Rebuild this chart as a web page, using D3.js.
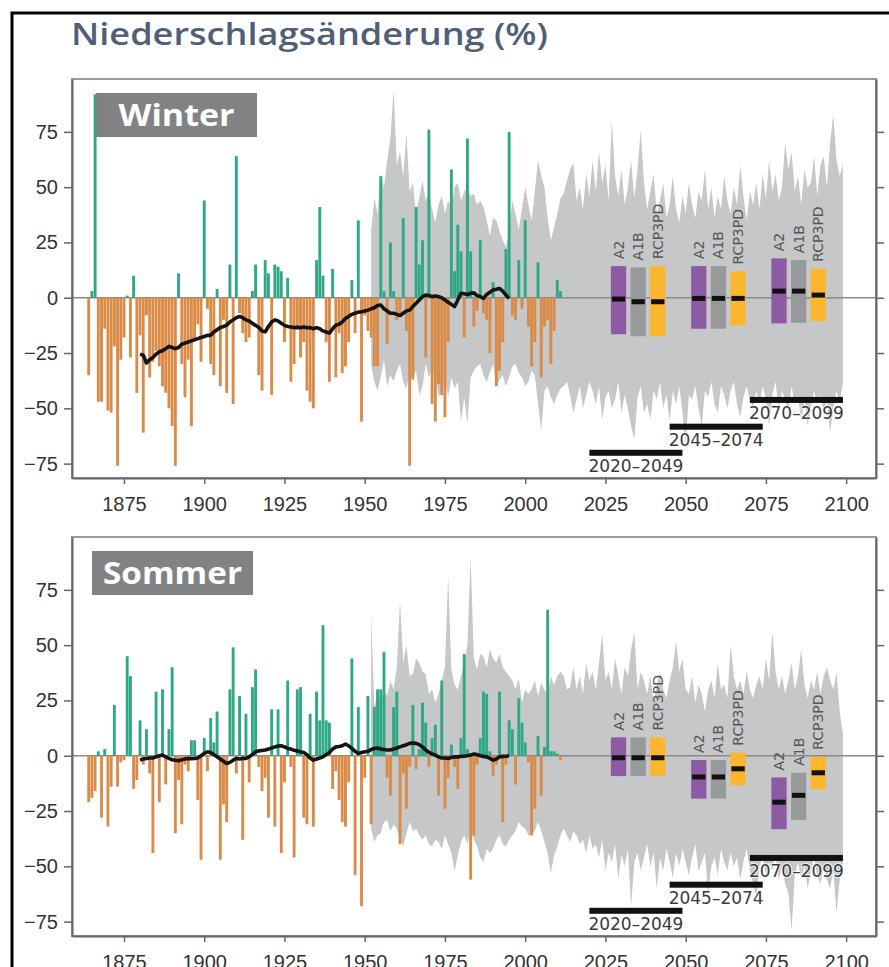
<!DOCTYPE html>
<html>
<head>
<meta charset="utf-8">
<script src="https://cdn.jsdelivr.net/npm/d3@7"></script>
<style>
  body { margin: 0; background: #fff; }
  svg { display: block; font-family: "DejaVu Sans", sans-serif; }
  .axis .tick text { font-size: 20px; fill: #333; }
  .axis .tick line { stroke: #666; stroke-width: 1.5; }
  .axis .domain { stroke: #666; stroke-width: 2; }
</style>
</head>
<body>
<svg id="chart"></svg>
<script>
// observed seasonal anomalies (%), one value per year from 1864
const firstBarYear = 1864;
const winterBars = [
  -35, 3, 92, -47, -47, -14, -51, -52, -22, -76,
  -28, -18, 1, -27, 10, -43, -17, -61, -8, -36,
  -29, -24, -31, -40, -43, -50, -58, -76, 11, -30,
  -45, -28, -58, -19, -12, -29, 44, -5, -30, -35,
  4, -40, -10, -43, 15, -48, 64, -7, -16, -20,
  -18, 3, 15, -35, -42, 17, 11, -44, 15, 14,
  12, -20, 9, -38, -30, -14, -27, -20, -42, -47,
  -50, 17, 41, 10, -20, -38, 13, -36, -16, -34,
  -31, -20, 8, -16, 35, -56, -8, -15, -18, -31,
  -31, 55, 3, -21, 25, 3, -10, -7, 36, -15,
  -76, -37, 41, 15, 26, -27, 76, -48, -56, -39,
  -44, -54, -20, 58, 12, 33, 21, -18, 72, 21,
  -13, -6, 26, -7, -10, -25, 7, -40, -33, -20,
  22, 75, -8, -10, 17, -5, 35, -13, -31, -20,
  16, -36, -13, -10, -30, -15, 8, 3
];
const summerBars = [
  -21, -19, -16, 2, -28, 3, -32, -14, 23, -14,
  -3, -2, 45, 36, -15, -11, 16, -4, 12, -8,
  -44, 29, -21, 30, -13, 12, 40, -35, -11, -31,
  -4, -7, 7, 7, -20, -47, 8, -7, 17, 6,
  20, -47, -22, -30, 30, 49, -8, 27, -38, 19,
  -12, 31, 39, -5, -16, -10, -28, 21, -32, 21,
  -44, -12, 34, -5, -46, 30, 31, -28, -31, 19,
  -32, 29, 16, 59, 16, 15, -15, -7, -20, -30,
  -32, -12, 44, -54, 22, -68, -10, 27, -31, 22,
  30, 30, 47, -10, -18, 22, 29, -40, -8, -24,
  -5, 23, -6, 3, 24, 15, -5, 8, 14, -18,
  34, -24, -10, 5, -5, -15, 8, 46, 3, -56,
  -36, -4, 8, 29, 28, 2, -9, -4, 29, -30,
  -4, 16, 12, -13, 26, 15, 6, -3, -36, -24,
  9, -18, 4, 66, 2, 2, 1, -2
];

// model spread (grey envelope), one value per year from 1952
const firstBandYear = 1952;
const winterBandHigh = [
  30, 45, 38, 56, 50, 62, 72, 94, 60, 66,
  55, 74, 48, 52, 38, 45, 53, 44, 48, 40,
  34, 42, 46, 38, 44, 41, 50, 52, 44, 48,
  50, 46, 47, 42, 44, 41, 35, 28, 36, 35,
  30, 26, 23, 30, 44, 38, 31, 40, 50, 42,
  35, 48, 62, 55, 50, 36, 26, 32, 38, 45,
  47, 53, 58, 61, 44, 50, 40, 56, 46, 62,
  48, 66, 52, 60, 44, 80, 55, 46, 58, 42,
  50, 62, 45, 58, 76, 52, 40, 48, 56, 38,
  44, 52, 36, 42, 55, 40, 34, 46, 38, 52,
  42, 36, 48, 44, 58, 40, 50, 36, 46, 40,
  55, 44, 38, 50, 42, 60, 46, 35, 48, 42,
  52, 40, 56, 45, 62, 48, 56, 44, 50, 70,
  58, 66, 48, 55, 42, 58, 50, 52, 64, 46,
  60, 64, 50, 70, 83, 62, 55, 60
];
const winterBandLow = [
  -30, -38, -42, -36, -28, -40, -35, -38, -33, -30,
  -38, -41, -34, -37, -33, -44, -40, -30, -36, -32,
  -34, -45, -42, -35, -45, -36, -41, -38, -56, -45,
  -57, -36, -33, -31, -30, -35, -38, -34, -30, -40,
  -37, -35, -40, -36, -31, -30, -34, -36, -40, -38,
  -33, -35, -48, -60, -42, -40, -45, -48, -44, -41,
  -40, -38, -44, -52, -46, -40, -50, -44, -38, -42,
  -48, -40, -55, -45, -42, -50, -46, -38, -52, -44,
  -50, -58, -64, -45, -40, -52, -48, -55, -42, -46,
  -38, -50, -44, -56, -42, -48, -40, -52, -66, -44,
  -46, -40, -50, -58, -42, -45, -38, -48, -52, -40,
  -44, -50, -42, -38, -48, -54, -45, -40, -46, -50,
  -42, -48, -40, -46, -58, -44, -38, -50, -42, -46,
  -52, -40, -48, -44, -56, -46, -58, -50, -42, -48,
  -44, -52, -46, -61, -50, -42, -48, -38
];
const summerBandHigh = [
  64, 22, 28, 24, 30, 27, 34, 30, 40, 70,
  42, 50, 36, 37, 44, 42, 38, 37, 28, 30,
  24, 28, 34, 40, 81, 39, 32, 30, 36, 42,
  50, 90, 44, 39, 46, 45, 40, 48, 44, 42,
  46, 40, 38, 36, 34, 30, 35, 24, 30, 28,
  30, 34, 27, 33, 30, 27, 36, 32, 36, 38,
  36, 30, 31, 40, 30, 36, 28, 42, 34, 38,
  30, 42, 55, 34, 38, 30, 44, 36, 28, 40,
  36, 48, 56, 30, 38, 34, 28, 36, 24, 32,
  38, 30, 26, 34, 40, 52, 38, 44, 30, 28,
  36, 24, 32, 28, 20, 30, 34, 26, 42, 30,
  32, 26, 50, 36, 30, 34, 28, 38, 30, 26,
  32, 36, 30, 44, 34, 56, 38, 30, 36, 28,
  34, 42, 30, 36, 48, 32, 26, 34, 30, 38,
  28, 36, 40, 34, 30, 38, 20, 10
];
const summerBandLow = [
  -33, -39, -36, -35, -30, -29, -34, -31, -33, -38,
  -41, -35, -30, -34, -33, -36, -38, -36, -40, -41,
  -38, -39, -42, -36, -40, -44, -52, -45, -39, -36,
  -40, -33, -38, -41, -46, -48, -42, -44, -42, -38,
  -36, -40, -41, -38, -36, -34, -30, -32, -33, -36,
  -36, -34, -30, -34, -39, -44, -53, -45, -41, -36,
  -33, -36, -39, -34, -36, -40, -38, -44, -36, -42,
  -40, -46, -38, -52, -44, -48, -40, -56, -45, -50,
  -42, -68, -48, -44, -52, -46, -40, -50, -44, -60,
  -46, -52, -42, -48, -55, -44, -50, -42, -48, -54,
  -46, -40, -52, -48, -44, -62, -50, -46, -54, -42,
  -48, -52, -44, -50, -46, -56, -48, -42, -52, -58,
  -64, -50, -46, -54, -48, -52, -44, -56, -50, -58,
  -62, -79, -54, -48, -56, -50, -60, -52, -46, -54,
  -58, -50, -56, -60, -52, -71, -56, -48
];

// smoothed observations (black line), one value per year from 1880
const firstTrendYear = 1880;
const winterTrend = [
  -25.5, -26, -29.5, -28, -27, -25.5, -24.4, -24, -23, -22,
  -22.5, -23, -22.5, -21, -20.5, -20, -19.5, -19, -18.5, -18,
  -17.5, -17, -17, -15.5, -14.5, -13.5, -13, -12.4, -11, -10,
  -9, -8.5, -9, -10, -10.5, -11.6, -12.5, -13.5, -15, -15.4,
  -13, -11, -10, -10.5, -11.5, -12.5, -13, -13.2, -13.5, -13.4,
  -13.6, -13.2, -13.6, -13.5, -14, -13.5, -14, -15, -15.5, -16,
  -14, -12.4, -12, -11, -9.4, -8.5, -7.5, -7, -6.5, -6.3,
  -6, -5.6, -5, -4.5, -3.5, -3.3, -5, -6, -7, -7,
  -7.5, -8, -7, -6, -5.6, -4, -2.5, -1, 0.5, 1.2,
  1, 0.5, 0.8, 0.5, 0, -1, -2, -3, -4, -1,
  2, 1.8, 1.5, 2, 2.2, 1, 0.5, -0.3, 1.5, 2.5,
  3.5, 3.8, 4.2, 3, 1.2, -0.3
];
const summerTrend = [
  -2, -1.5, -1.2, -1, -1, -0.5, 0, 0.3, -0.5, -1.2,
  -1.8, -2, -2.3, -1.8, -1.5, -1.2, -1.3, -1.2, -1, 0,
  1, 1.8, 1.5, 0.5, -0.5, -1.5, -2.5, -3.5, -3, -2,
  -1.2, -1.5, -1.2, -1.2, -0.5, 0.5, 1.8, 2.2, 2.4, 2.6,
  3, 3.5, 4, 4.4, 4.5, 4, 3.3, 3, 2.5, 2.2,
  1.8, 1.5, 0.5, -1, -2, -1.5, -1, -0.5, 0.5, 1.5,
  3, 4, 4.2, 4.5, 5.3, 4.5, 3.3, 2, 1, 1.5,
  1.8, 2, 2.8, 3.3, 3.5, 3, 2.8, 2.6, 2.6, 3,
  3.5, 4, 4.5, 5, 5.6, 5.8, 5.6, 5, 4, 2.6,
  1.5, 0.8, 0.3, -0.5, -1, -1, -1.2, -0.8, -0.5, -0.5,
  -0.3, -0.2, 0, 0.3, 0.8, 0.5, 0, -0.3, -0.5, -1.2,
  -2, -1.5, -0.5, -0.3, -0.2, 0
];

// scenario ranges per period: [A2, A1B, RCP3PD]
const scenarios = ["A2", "A1B", "RCP3PD"];
const periodStarts = [2020, 2045, 2070];
const periodEnds = [2049, 2074, 2099];
const winterBoxHigh = [[14.3, 13.7, 14.3], [14.3, 14.3, 11.9], [17.8, 17, 13.1]];
const winterBoxLow = [[-16.5, -17.4, -17.4], [-14, -14, -12.5], [-11.6, -11.3, -10.6]];
const winterBoxMid = [[-0.6, -1.8, -1.8], [-0.3, -0.3, -0.3], [3, 3, 1.2]];
const summerBoxHigh = [[8.3, 8.3, 8.3], [-1.9, -1.9, 1.4], [-9.8, -7.7, -0.5]];
const summerBoxLow = [[-9.2, -9.2, -9.2], [-19.4, -19.4, -13.4], [-33.2, -29, -15.2]];
const summerBoxMid = [[-0.9, -0.9, -0.9], [-9.6, -9.6, -5.9], [-21, -17.9, -7.7]];

const yTicks = [-75, -50, -25, 0, 25, 50, 75];
const xTicks = [1875, 1900, 1925, 1950, 1975, 2000, 2025, 2050, 2075, 2100];

const chart = () => {
  const w = 889;
  const h = 967;
  const left = 72;
  const right = 876;
  const green = "#2fa886";
  const orange = "#d98b47";
  const bandGrey = "#c6c7c9";
  const scenarioColors = ["#8c5ba4", "#98999b", "#fbb62e"];
  const periodLevels = [-70.1, -58.3, -46.2];

  const svg = d3.select("#chart").attr("width", w).attr("height", h);

  svg
    .append("rect")
    .attr("x", 12)
    .attr("y", 13)
    .attr("width", 920)
    .attr("height", 1000)
    .attr("fill", "none")
    .attr("stroke", "#000")
    .attr("stroke-width", 3);

  svg
    .append("text")
    .attr("x", 71)
    .attr("y", 45)
    .attr("font-family", "'Open Sans', sans-serif")
    .attr("font-weight", 600)
    .attr("font-size", 30)
    .attr("textLength", 477)
    .attr("lengthAdjust", "spacingAndGlyphs")
    .attr("fill", "#505f78")
    .text("Niederschlagsänderung (%)");

  const x = d3.scaleLinear().domain([1858.8, 2109.3]).range([left, right]);
  const barW = (x(1) - x(0)) * 0.9;

  const drawPanel = (cfg) => {
    const y = d3.scaleLinear().domain([-81.5, 98.9]).range([cfg.bottom, cfg.top]);
    const g = svg.append("g");

    const bars = cfg.bars.map((v, i) => ({ year: firstBarYear + i, value: v }));
    const band = cfg.high.map((v, i) => ({ year: firstBandYear + i, high: v, low: cfg.low[i] }));
    const trend = cfg.trend.map((v, i) => ({ year: firstTrendYear + i, value: v }));

    g.append("path")
      .datum(band)
      .attr("fill", bandGrey)
      .attr("d", d3.area()
        .x((d) => x(d.year))
        .y0((d) => y(d.low))
        .y1((d) => y(d.high)));

    g.append("line")
      .attr("x1", left)
      .attr("x2", right)
      .attr("y1", y(0))
      .attr("y2", y(0))
      .attr("stroke", "#8a8a8a")
      .attr("stroke-width", 1.5);

    g.selectAll("rect.bar")
      .data(bars)
      .join("rect")
      .attr("class", "bar")
      .attr("x", (d) => x(d.year) - barW / 2)
      .attr("width", barW)
      .attr("y", (d) => y(Math.max(0, d.value)))
      .attr("height", (d) => Math.abs(y(d.value) - y(0)))
      .attr("fill", (d) => (d.value >= 0 ? green : orange));

    g.append("path")
      .datum(trend)
      .attr("fill", "none")
      .attr("stroke", "#141414")
      .attr("stroke-width", 3.6)
      .attr("stroke-linejoin", "round")
      .attr("d", d3.line().x((d) => x(d.year)).y((d) => y(d.value)));

    // period bars with labels
    periodStarts.forEach((start, p) => {
      const end = periodEnds[p];
      const yc = y(periodLevels[p]);
      g.append("rect")
        .attr("x", x(start))
        .attr("width", x(end) - x(start))
        .attr("y", yc - 3)
        .attr("height", 6)
        .attr("fill", "#111");
      g.append("text")
        .attr("x", (x(start) + x(end)) / 2)
        .attr("y", yc + 19)
        .attr("text-anchor", "middle")
        .attr("font-size", 17)
        .attr("fill", "#3a3a3a")
        .attr("stroke", "#fff")
        .attr("stroke-width", 2)
        .attr("stroke-opacity", 0.7)
        .attr("paint-order", "stroke")
        .text(start + "\u2013" + end);

      // scenario boxes for this period
      const mid = (start + end) / 2;
      const band = d3
        .scaleBand()
        .domain(scenarios)
        .range([x(mid - 7.8), x(mid + 9.2)])
        .paddingInner(0.22);
      scenarios.forEach((s, k) => {
        const hi = cfg.boxHigh[p][k];
        const lo = cfg.boxLow[p][k];
        const md = cfg.boxMid[p][k];
        const bx = band(s);
        g.append("rect")
          .attr("x", bx)
          .attr("width", band.bandwidth())
          .attr("y", y(hi))
          .attr("height", y(lo) - y(hi))
          .attr("fill", scenarioColors[k]);
        g.append("rect")
          .attr("x", bx + 1)
          .attr("width", band.bandwidth() - 2)
          .attr("y", y(md) - 2.5)
          .attr("height", 5)
          .attr("fill", "#111");
        g.append("text")
          .attr("transform", `translate(${bx + band.bandwidth() / 2},${y(hi) - 7}) rotate(-90)`)
          .attr("dy", "0.36em")
          .attr("font-size", 14)
          .attr("fill", "#555")
          .text(s);
      });
    });

    // frame and axes
    g.append("rect")
      .attr("x", left)
      .attr("y", cfg.top)
      .attr("width", right - left)
      .attr("height", cfg.bottom - cfg.top)
      .attr("fill", "none")
      .attr("stroke", "#9a9a9a")
      .attr("stroke-width", 2);

    g.append("g")
      .attr("class", "axis")
      .attr("transform", `translate(${left},0)`)
      .call(d3.axisLeft(y).tickValues(yTicks).tickSize(8).tickSizeOuter(0).tickPadding(6));

    g.append("g")
      .attr("class", "axis")
      .attr("transform", `translate(${right},0)`)
      .call(d3.axisRight(y).tickValues(yTicks).tickSize(8).tickSizeOuter(0).tickFormat(""));

    g.append("g")
      .attr("class", "axis")
      .attr("transform", `translate(0,${cfg.bottom})`)
      .call(d3.axisBottom(x).tickValues(xTicks).tickFormat(d3.format("d")).tickSize(6).tickSizeOuter(0).tickPadding(13));

    // season label
    g.append("rect")
      .attr("x", cfg.labelX)
      .attr("y", cfg.top + 14)
      .attr("width", 161)
      .attr("height", 44)
      .attr("fill", "#77797b")
      .attr("opacity", 0.93);
    g.append("text")
      .attr("x", cfg.labelX + 80.5)
      .attr("y", cfg.top + 47)
      .attr("text-anchor", "middle")
      .attr("font-family", "'Open Sans', sans-serif")
      .attr("font-weight", 700)
      .attr("font-size", 31)
      .attr("textLength", cfg.labelLen)
      .attr("lengthAdjust", "spacingAndGlyphs")
      .attr("fill", "#fff")
      .text(cfg.name);
  };

  drawPanel({
    name: "Winter",
    top: 79,
    bottom: 478,
    labelX: 96,
    labelLen: 116,
    bars: winterBars,
    high: winterBandHigh,
    low: winterBandLow,
    trend: winterTrend,
    boxHigh: winterBoxHigh,
    boxLow: winterBoxLow,
    boxMid: winterBoxMid,
  });

  drawPanel({
    name: "Sommer",
    top: 537,
    bottom: 936,
    labelX: 92,
    labelLen: 139,
    bars: summerBars,
    high: summerBandHigh,
    low: summerBandLow,
    trend: summerTrend,
    boxHigh: summerBoxHigh,
    boxLow: summerBoxLow,
    boxMid: summerBoxMid,
  });
};

chart();
</script>
</body>
</html>
